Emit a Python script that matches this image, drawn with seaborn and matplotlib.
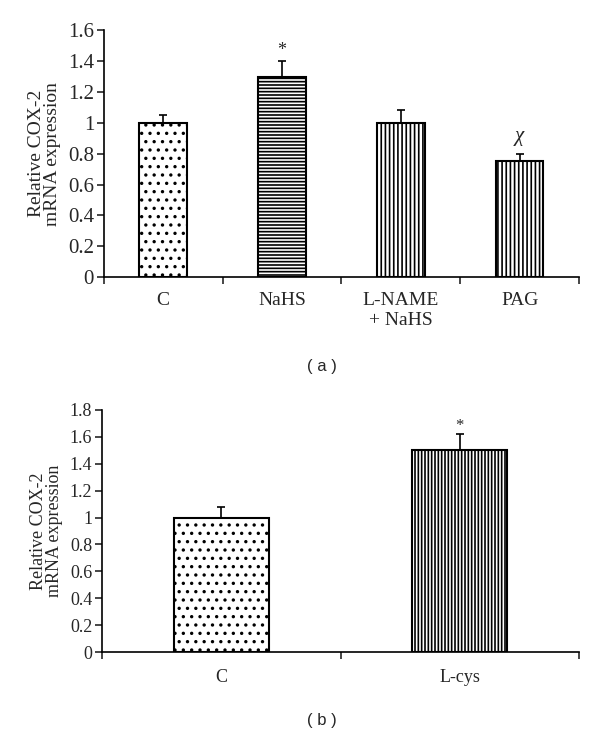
import matplotlib
matplotlib.use("Agg")
import matplotlib.pyplot as plt
import numpy as np
import seaborn as sns
from matplotlib.ticker import FuncFormatter

# Panel (a) data
cats_a = ["C", "NaHS", "L-NAME\n+ NaHS", "PAG"]
vals_a = [1.0, 1.3, 1.0, 0.75]
errs_a = [0.05, 0.10, 0.08, 0.05]
marks_a = ["", "*", "", "χ"]
hatch_a = ["..", "-----", "||||", "||||"]

# Panel (b) data
cats_b = ["C", "L-cys"]
vals_b = [1.0, 1.5]
errs_b = [0.08, 0.12]
marks_b = ["", "*"]
hatch_b = ["..", "|||||"]

sns.set_style("white")
plt.rcParams['font.family'] = ['Liberation Serif', 'DejaVu Serif']
plt.rcParams['hatch.linewidth'] = 1.2

fig = plt.figure(figsize=(6, 7.37), dpi=100)
ax_a = fig.add_axes([0.173, 0.624, 0.792, 0.335])
ax_b = fig.add_axes([0.170, 0.115, 0.795, 0.329])


def draw_panel(ax, cats, vals, errs, marks, hatches, ymax, fs, tick_fs, xpad, star_off, chi_off):
    sns.barplot(x=cats, y=vals, color='white', edgecolor='black',
                linewidth=1.5, width=0.4, ax=ax)
    for p, h in zip(ax.patches, hatches):
        p.set_hatch(h)
    n = len(cats)
    ax.errorbar(np.arange(n), vals, yerr=[np.zeros(n), errs], fmt='none',
                ecolor='black', elinewidth=1.2, capsize=3, capthick=1.2)
    for i, (v, e, m) in enumerate(zip(vals, errs, marks)):
        if m == "*":
            ax.text(i, v + e + star_off, m, ha='center', va='center', fontsize=fs - 1)
        elif m:
            ax.text(i, v + e + chi_off, m, ha='center', va='center',
                    fontsize=fs + 1, style='italic')
    ax.set_xlim(-0.5, n - 0.5)
    ax.set_ylim(0, ymax)
    ax.set_yticks(np.arange(0, ymax + 0.01, 0.2))
    ax.yaxis.set_major_formatter(FuncFormatter(lambda v, p: f"{v:g}"))
    ax.set_xticks(np.arange(-0.5, n, 1.0))
    ax.set_xticklabels([])
    ax.set_xticks(np.arange(n), minor=True)
    ax.set_xticklabels(cats, minor=True, fontsize=fs)
    ax.tick_params(axis='x', which='major', direction='out', length=5, width=1.2, bottom=True)
    ax.tick_params(axis='x', which='minor', length=0, pad=xpad)
    ax.tick_params(axis='y', direction='out', length=5, width=1.2, left=True,
                   labelsize=tick_fs, pad=2)
    for s in ['top', 'right']:
        ax.spines[s].set_visible(False)
    for s in ['left', 'bottom']:
        ax.spines[s].set_linewidth(1.2)
        ax.spines[s].set_color('black')
    ax.set_ylabel("Relative COX-2\nmRNA expression", fontsize=fs, linespacing=0.9,
                  labelpad=5)


draw_panel(ax_a, cats_a, vals_a, errs_a, marks_a, hatch_a, 1.6, 14, 15, 11, 0.07, 0.11)
draw_panel(ax_b, cats_b, vals_b, errs_b, marks_b, hatch_b, 1.8, 13, 13, 12, 0.06, 0.1)

fig.text(0.537, 0.503, "( a )", ha='center', va='center', fontsize=12,
         family='Liberation Sans')
fig.text(0.537, 0.023, "( b )", ha='center', va='center', fontsize=12,
         family='Liberation Sans')

fig.savefig("out.png", dpi=100)
